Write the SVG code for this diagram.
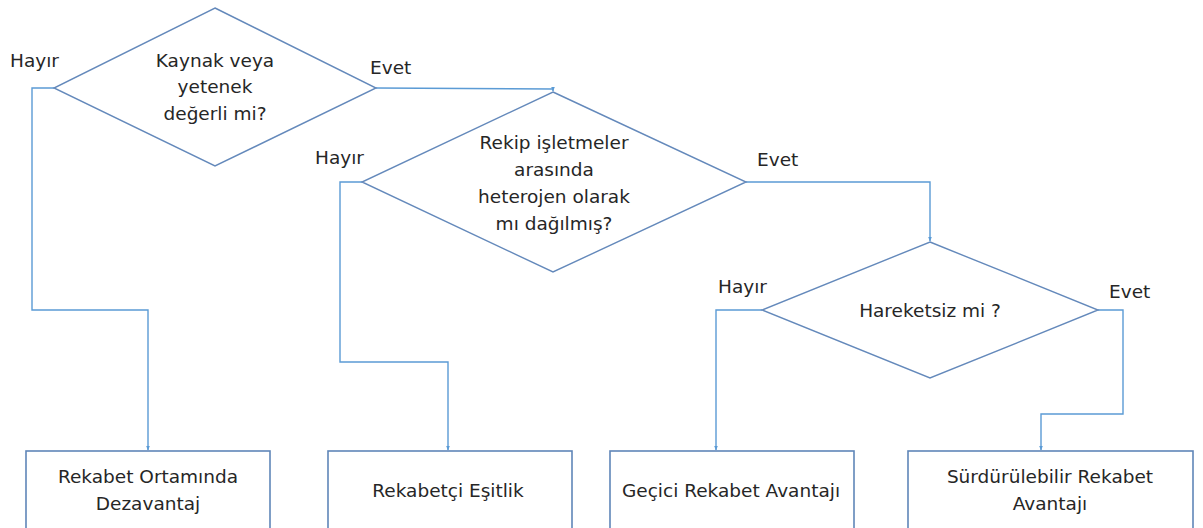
<svg xmlns="http://www.w3.org/2000/svg" width="1203" height="528" viewBox="0 0 1203 528">
<defs>
<style>
.shape{fill:#ffffff;stroke:#6489bb;stroke-width:1.4}
.box{fill:#ffffff;stroke:#5f86b8;stroke-width:1.6}
.conn{fill:none;stroke:#5b9bd5;stroke-width:1.4}
text{font-family:"DejaVu Sans","Liberation Sans",sans-serif;font-size:18.5px;fill:#262626}
.c{text-anchor:middle}
</style>
<marker id="arr" viewBox="0 0 10 10" refX="9" refY="5" markerWidth="5" markerHeight="5" orient="auto" markerUnits="userSpaceOnUse">
<path d="M0,1 L10,5 L0,9 z" fill="#5b9bd5"/>
</marker>
</defs>
<rect width="1203" height="528" fill="#ffffff"/>
<g id="connectors">
<polyline class="conn" points="54,88 32,88 32,310 148,310 148,450" marker-end="url(#arr)"/>
<polyline class="conn" points="376,88 553,89 553,91" marker-end="url(#arr)"/>
<polyline class="conn" points="362,182 340,182 340,362 448,362 448,450" marker-end="url(#arr)"/>
<polyline class="conn" points="746,182 930,182 930,241" marker-end="url(#arr)"/>
<polyline class="conn" points="762,310 716,310 716,450" marker-end="url(#arr)"/>
<polyline class="conn" points="1098,310 1123,310 1123,414 1041,414 1041,450" marker-end="url(#arr)"/>
</g>
<g id="labels">
<text x="10" y="67">Hayır</text>
<text x="370" y="74">Evet</text>
<text x="315" y="164">Hayır</text>
<text x="757" y="166">Evet</text>
<text x="718" y="293">Hayır</text>
<text x="1109" y="298">Evet</text>
</g>
<g id="d1">
<polygon class="shape" points="215,8 376,88 215,166 54,88"/>
<text class="c" x="215" y="67">Kaynak veya</text>
<text class="c" x="215" y="93">yetenek</text>
<text class="c" x="215" y="120">değerli mi?</text>
</g>
<g id="d2">
<polygon class="shape" points="553,92 746,182 553,272 362,182"/>
<text class="c" x="554" y="149">Rekip işletmeler</text>
<text class="c" x="554" y="176">arasında</text>
<text class="c" x="554" y="203">heterojen olarak</text>
<text class="c" x="554" y="230">mı dağılmış?</text>
</g>
<g id="d3">
<polygon class="shape" points="930,242 1098,310 930,378 762,310"/>
<text class="c" x="930" y="317">Hareketsiz mi ?</text>
</g>
<g id="b1">
<rect class="box" x="26" y="451" width="244" height="90"/>
<text class="c" x="148" y="483">Rekabet Ortamında</text>
<text class="c" x="148" y="510">Dezavantaj</text>
</g>
<g id="b2">
<rect class="box" x="328" y="451" width="244" height="90"/>
<text class="c" x="448" y="497">Rekabetçi Eşitlik</text>
</g>
<g id="b3">
<rect class="box" x="610" y="451" width="244" height="90"/>
<text class="c" x="731" y="497">Geçici Rekabet Avantajı</text>
</g>
<g id="b4">
<rect class="box" x="908" y="451" width="285" height="90"/>
<text class="c" x="1050" y="483">Sürdürülebilir Rekabet</text>
<text class="c" x="1050" y="510">Avantajı</text>
</g>
</svg>
